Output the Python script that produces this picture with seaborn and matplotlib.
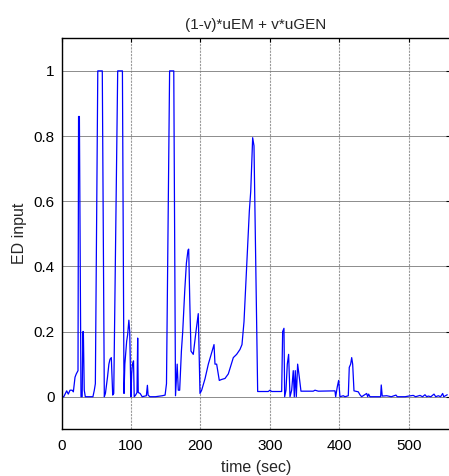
import matplotlib
matplotlib.use("Agg")
import matplotlib.pyplot as plt
import seaborn as sns
import pandas as pd

time_sec = [0, 3, 7.2, 9.5, 12, 15, 16.8, 19.2, 21, 23.5, 24.3, 25.5, 27.8, 29.5, 30.5, 31.2,
            32.5, 34, 45, 47, 48.5, 52, 58.5, 61.4, 63, 66, 68, 69.6, 71.5, 73.5, 75, 80.7,
            87.5, 89.8, 91, 93.6, 95, 96.8, 98, 99.8, 100.8, 102, 103.5, 104.5, 106.5, 108.5,
            109.5, 110.3, 113, 116, 122, 123.5, 124.5, 127, 135, 145, 149, 151, 155.5, 161.5,
            164, 166.4, 168, 170, 172.5, 174.4, 177.3, 179.7, 182, 183, 184.5, 186.3, 188,
            189.6, 192.1, 193.5, 196.8, 199.3, 201.7, 206.5, 211.3, 216.1, 219.5, 220.9,
            223.3, 227.1, 230.5, 235.3, 240.1, 247.3, 252.1, 256.9, 259.8, 262.7, 266.6,
            270.4, 272.4, 275.2, 277.1, 282.4, 297.7, 300.1, 302.6, 317, 318.4, 320.3, 321.3,
            323.2, 325.1, 327, 329, 331.4, 333.7, 335.2, 336.6, 338.1, 340, 342.4, 344.8,
            362.5, 365, 369.8, 393.8, 394.8, 397.1, 399.1, 401, 405.8, 408.2, 413, 414.4,
            416.4, 417.9, 419.3, 421.2, 427.4, 429.8, 432.2, 439.5, 440.9, 442.3, 444.2,
            459.6, 460.5, 461.9, 468.3, 475, 481.7, 483.6, 495, 500, 506.6, 510, 516.3, 520,
            523.5, 526, 528.3, 532, 536.5, 539, 542.7, 546, 549, 550.5, 552.3, 555.6]
ed_input = [0, 0.0, 0.018, 0.008, 0.02, 0.02, 0.015, 0.06, 0.07, 0.08, 0.86, 0.86, 0.0, 0.0, 0.2, 0.2,
            0.02, 0.0, 0.0, 0.02, 0.04, 1.0, 1.0, 0.0, 0.01, 0.06, 0.1, 0.115, 0.12, 0.005, 0.01, 1.0,
            1.0, 0.01, 0.1, 0.17, 0.19, 0.235, 0.2, 0.0, 0.07, 0.1, 0.11, 0.0, 0.005, 0.013,
            0.18, 0.013, 0.01, 0.0, 0.003, 0.035, 0.005, 0.0, 0.0, 0.003, 0.005, 0.04, 1.0, 1.0,
            0.003, 0.1, 0.02, 0.02, 0.14, 0.2, 0.325, 0.41, 0.45, 0.453, 0.3, 0.14, 0.135,
            0.13, 0.175, 0.2, 0.255, 0.01, 0.02, 0.055, 0.1, 0.135, 0.16, 0.1,
            0.1, 0.05, 0.053, 0.056, 0.07, 0.12, 0.13, 0.145, 0.16, 0.23, 0.4,
            0.57, 0.63, 0.795, 0.77, 0.016, 0.016, 0.02, 0.016, 0.016, 0.2, 0.21, 0.0,
            0.02, 0.1, 0.13, 0.0, 0.02, 0.08, 0.0, 0.08, 0.0, 0.1, 0.06, 0.017,
            0.017, 0.02, 0.017, 0.018, 0.0, 0.03, 0.05, 0.0, 0.003, 0.0, 0.003, 0.09,
            0.1, 0.12, 0.1, 0.018, 0.015, 0.006, 0.0, 0.01, 0.0, 0.008, 0.0,
            0.0, 0.036, 0.002, 0.003, 0.0, 0.005, 0.0, 0.0, 0.002, 0.004, 0.0, 0.004, 0.0,
            0.006, 0.0, 0.002, 0.0, 0.008, 0.0, 0.003, 0.0, 0.01, 0.0, 0.002, 0.006]

x_ticks = [0, 100, 200, 300, 400, 500]
y_ticks = [0, 0.2, 0.4, 0.6, 0.8, 1]
y_tick_labels = ["0", "0.2", "0.4", "0.6", "0.8", "1"]

sns.set_style("white")
plt.rcParams["font.family"] = ["Liberation Sans", "DejaVu Sans"]
plt.rcParams["font.size"] = 11

df = pd.DataFrame({"time": time_sec, "ED": ed_input})

fig = plt.figure(figsize=(4.49, 4.76), dpi=100)
ax = fig.add_axes([61.7 / 449, 46.7 / 476, (450.3 - 61.7) / 449, (429.3 - 38.3) / 476])

sns.lineplot(data=df, x="time", y="ED", ax=ax, color="#0000FF", linewidth=0.9,
             estimator=None, sort=False)

ax.set_xlim(0, 560)
ax.set_ylim(-0.1, 1.1)
ax.set_xticks(x_ticks)
ax.set_yticks(y_ticks)
ax.set_yticklabels(y_tick_labels)
ax.xaxis.grid(True, color="#9a9a9a", linestyle=(0, (2, 1)), linewidth=0.8)
ax.yaxis.grid(True, color="#7a7a7a", linestyle="-", linewidth=0.6)
ax.set_axisbelow(True)
ax.tick_params(direction="in", top=True, right=True, length=3, width=0.8,
               labelsize=11, colors="black")
ax.tick_params(axis="x", pad=7)
ax.tick_params(axis="y", pad=5)
for s in ax.spines.values():
    s.set_color("black")
    s.set_linewidth(1.0)
ax.set_title("(1-v)*uEM + v*uGEN", fontsize=11, pad=7)
ax.set_xlabel("time (sec)", fontsize=11.5, labelpad=5)
ax.set_ylabel("ED input", fontsize=11.5, labelpad=5)

fig.savefig("out.png", dpi=100)
